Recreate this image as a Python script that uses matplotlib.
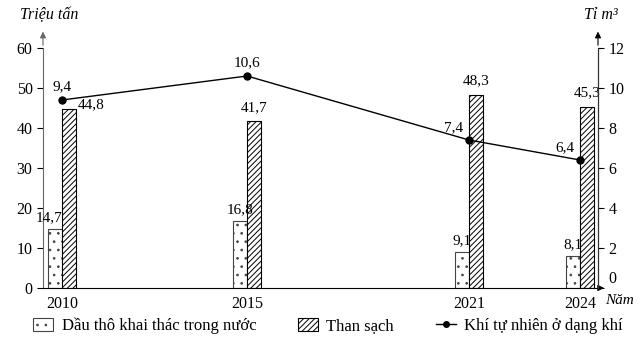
import matplotlib.pyplot as plt
from matplotlib.patches import Patch
from matplotlib.lines import Line2D
from matplotlib.transforms import ScaledTranslation

plt.rcParams["font.family"] = ["Liberation Serif", "DejaVu Serif"]
plt.rcParams["hatch.linewidth"] = 0.7

years = [2010, 2015, 2021, 2024]
dau_tho = [14.7, 16.8, 9.1, 8.1]      # triệu tấn
than_sach = [44.8, 41.7, 48.3, 45.3]  # triệu tấn
khi = [9.4, 10.6, 7.4, 6.4]           # tỉ m3

def vn(v):
    return f"{v:.1f}".replace(".", ",")

W = 0.38
fig = plt.figure(figsize=(6.43, 3.46), dpi=100)
ax = fig.add_axes([43 / 643, 58 / 346, 555 / 643, 240 / 346])
ax2 = ax.twinx()

ax.bar([y - W / 2 for y in years], dau_tho, width=W, color="white",
       edgecolor="#444444", hatch="..", linewidth=0.8, zorder=2)
ax.bar([y + W / 2 for y in years], than_sach, width=W, color="white",
       edgecolor="black", hatch="//////", linewidth=0.8, zorder=2)
ax2.plot(years, khi, color="black", linewidth=1, marker="o",
         markersize=5, zorder=3)

ax.set_xlim(2009.486, 2024.486)
ax.set_ylim(0, 60)
ax2.set_ylim(0, 12)
ax.set_xticks(years)
ax.set_xticklabels([str(y) for y in years], fontsize=11.5)
ax.tick_params(axis="x", length=0, pad=6)
ax.set_yticks(range(0, 61, 10))
ax2.set_yticks(range(0, 13, 2))
ax.tick_params(axis="y", labelsize=11.5, length=4, direction="out")
ax2.tick_params(axis="y", labelsize=11.5, length=4, direction="out")

# lift the right-hand "0" so it clears the horizontal axis arrow
fig.canvas.draw()
lbl0 = ax2.get_yticklabels()[0]
lbl0.set_transform(lbl0.get_transform() + ScaledTranslation(0, 0.11, fig.dpi_scale_trans))

for a in (ax, ax2):
    a.spines["top"].set_visible(False)
ax.spines["left"].set_color("#666666")
ax2.spines["right"].set_color("#333333")
ax2.spines["left"].set_visible(False)
ax2.spines["bottom"].set_visible(False)

# value labels
for y, v in zip(years, dau_tho):
    dx = -0.15 if y == 2010 else 0
    ax.text(y - W / 2 + dx, v + 1.2, vn(v), ha="center", va="bottom", fontsize=11)
for y, v in zip(years, than_sach):
    if y == 2010:
        ax.text(y + W + 0.05, v - 0.5, vn(v), ha="left", va="bottom", fontsize=11)
    else:
        ax.text(y + W / 2, v + 1.8, vn(v), ha="center", va="bottom", fontsize=11)
for y, v in zip(years, khi):
    if y in (2010, 2015):
        ax2.text(y, v + 0.35, vn(v), ha="center", va="bottom", fontsize=11)
    else:
        ax2.text(y - 0.15, v + 0.3, vn(v), ha="right", va="bottom", fontsize=11)

# axis arrows
arrow = dict(arrowstyle="-|>", color="black", lw=0.8, mutation_scale=9)
ax.annotate("", xy=(0, 1.08), xytext=(0, 1.0), xycoords="axes fraction",
            arrowprops=dict(arrow, color="#666666"))
ax.annotate("", xy=(1, 1.08), xytext=(1, 1.0), xycoords="axes fraction",
            arrowprops=arrow)
ax.annotate("", xy=(1.016, 0), xytext=(1.0, 0), xycoords="axes fraction",
            arrowprops=arrow)

fig.text(20 / 643, 1 - 15 / 346, "Triệu tấn", style="italic", fontsize=11.5,
         ha="left", va="center")
fig.text(601 / 643, 1 - 15 / 346, "Tỉ m³", style="italic", fontsize=11.5,
         ha="center", va="center")
fig.text(605 / 643, 1 - 300 / 346, "Năm", style="italic", fontsize=11,
         ha="left", va="center")

handles = [
    Patch(facecolor="white", edgecolor="#444444", hatch="..", linewidth=0.8),
    Patch(facecolor="white", edgecolor="black", hatch="//////", linewidth=0.8),
    Line2D([], [], color="black", marker="o", markersize=4, linewidth=1),
]
labels = ["Dầu thô khai thác trong nước", "Than sạch", "Khí tự nhiên ở dạng khí"]
fig.legend(handles, labels, loc="center", bbox_to_anchor=(0.51, 1 - 326 / 346),
           ncol=3, frameon=False, fontsize=12, handlelength=1.2,
           handleheight=0.8, columnspacing=2.5, handletextpad=0.5)

fig.savefig("out.png", dpi=100)
